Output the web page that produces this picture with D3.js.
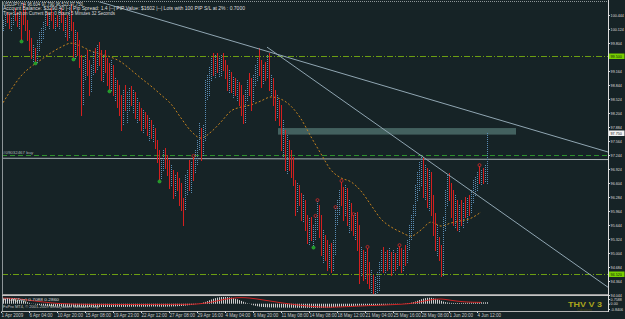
<!DOCTYPE html>
<html>
<head>
<meta charset="utf-8">
<title>USDJPY,H4</title>
<script src="https://cdn.jsdelivr.net/npm/d3@7/dist/d3.min.js"></script>
<style>
  html, body { margin: 0; padding: 0; background: #162326; overflow: hidden; }
  svg { display: block; font-family: "Liberation Sans", Arial, sans-serif; }
</style>
</head>
<body>
<svg id="chart" width="625" height="319"></svg>
<script>
// USDJPY H4 bar chart - MA, trendlines, levels and an oscillator window underneath

const firstOpen = 100.05;

const highs = [
  100.22,100.33,100.44,100.51,100.47,100.38,100.56,100.60,100.51,100.47,
  100.51,100.72,100.56,100.33,100.10,99.92,99.76,99.69,99.87,100.06,
  100.15,100.28,100.44,100.51,100.47,100.60,100.51,100.38,100.44,100.56,
  100.60,100.51,100.38,100.44,100.67,100.70,100.28,100.10,100.06,99.87,
  99.53,99.42,99.53,99.64,99.42,99.30,99.60,99.69,99.76,99.83,
  99.64,99.53,99.64,99.46,99.35,99.42,99.30,99.00,98.96,98.84,
  98.62,98.73,98.84,98.68,98.78,98.82,98.73,98.68,98.55,98.46,
  98.32,98.27,98.23,98.16,98.09,98.04,97.93,97.86,97.59,97.36,
  97.13,97.36,97.40,97.24,97.13,97.02,96.90,96.79,96.86,96.72,
  96.60,96.26,96.79,96.90,97.13,97.08,97.20,97.36,97.59,97.98,
  97.86,97.93,98.96,99.07,99.26,99.46,99.58,99.53,99.58,99.46,
  99.53,99.58,99.42,99.30,99.19,99.14,99.03,99.00,98.96,98.91,
  98.84,98.62,98.73,98.96,99.12,99.00,99.07,99.30,99.46,99.69,
  99.42,99.30,99.37,99.53,99.58,99.07,99.00,98.73,98.62,98.50,
  98.39,98.04,97.82,97.70,97.59,97.36,97.20,96.67,96.60,96.56,
  96.38,96.33,96.22,95.87,95.80,95.83,95.64,95.83,96.19,96.10,
  95.87,95.53,95.42,95.30,95.19,95.23,95.30,96.03,96.22,96.44,
  96.63,96.51,96.56,96.49,96.22,96.15,95.87,95.92,95.94,95.64,
  95.14,95.07,95.03,95.12,94.80,94.62,94.50,94.46,94.57,94.80,
  95.07,95.14,95.03,95.07,95.12,95.03,95.07,95.00,95.12,95.16,
  95.12,95.07,95.19,95.30,95.64,95.87,96.10,96.56,96.86,97.08,
  97.24,97.20,97.02,96.95,96.90,96.86,96.33,95.92,95.64,95.37,
  95.19,95.83,96.44,96.79,96.83,96.60,96.44,96.33,96.22,96.10,
  96.22,96.15,96.28,96.26,96.33,96.44,96.67,96.74,96.86,96.99,
  96.90,96.95,97.02,97.75
];

const lows = [
  99.92,100.10,100.19,100.28,100.15,100.10,100.24,100.33,100.19,100.15,
  99.85,100.24,100.10,99.87,99.64,99.46,99.37,99.35,99.37,99.64,
  99.83,99.92,100.10,100.22,100.15,100.33,100.15,100.10,100.19,100.15,
  100.28,100.10,99.96,99.87,99.92,100.10,99.44,99.46,99.53,99.26,
  98.16,98.39,98.96,99.07,98.62,98.68,99.07,99.14,99.19,99.30,
  98.96,98.91,99.14,98.84,98.71,98.73,98.62,98.50,98.34,98.16,
  97.82,97.93,98.27,97.98,98.27,98.39,98.23,98.09,97.98,98.04,
  97.82,97.75,97.86,97.70,97.59,97.63,97.54,97.40,97.09,96.65,
  96.72,96.90,96.95,96.79,96.49,96.56,96.26,96.33,96.44,96.10,
  95.99,95.64,95.99,96.33,96.44,96.38,96.67,96.86,97.02,97.36,
  97.13,97.24,97.59,98.50,98.62,98.96,99.07,99.03,99.14,99.03,
  99.07,99.19,99.00,98.73,98.66,98.68,98.57,98.62,98.50,98.39,
  98.16,97.98,98.00,98.50,98.62,98.27,98.46,98.84,98.96,99.07,
  98.80,98.89,98.96,99.00,98.73,98.62,98.39,98.04,98.09,97.93,
  97.36,97.20,96.90,96.83,96.90,96.74,96.56,95.87,95.94,96.10,
  95.76,95.71,95.53,95.23,95.19,95.30,95.14,95.30,95.53,95.37,
  94.96,94.80,94.84,94.62,94.66,94.57,94.62,94.96,95.64,95.87,
  96.10,95.76,95.87,95.64,95.46,95.53,95.42,95.30,95.07,94.32,
  94.50,94.39,94.43,94.32,94.20,94.11,94.04,94.02,94.04,94.16,
  94.62,94.57,94.55,94.62,94.66,94.50,94.57,94.62,94.66,94.73,
  94.57,94.62,94.73,94.80,95.07,95.30,95.53,95.87,96.22,96.44,
  96.56,96.28,96.22,96.06,95.99,95.87,95.42,95.07,94.96,94.84,
  94.48,94.48,95.53,96.10,96.22,95.83,95.64,95.60,95.53,95.48,
  95.64,95.57,95.83,95.71,95.87,95.92,96.15,96.33,96.44,96.60,
  96.56,96.60,96.63,96.60
];

const closes = [
  100.15,100.28,100.38,100.33,100.24,100.31,100.51,100.42,100.28,100.44,
  100.33,100.28,100.19,99.99,99.76,99.53,99.64,99.42,99.76,99.96,
  100.10,100.19,100.38,100.28,100.42,100.38,100.22,100.33,100.24,100.51,
  100.33,100.15,100.28,99.99,100.56,100.22,99.53,99.99,99.64,99.37,
  98.50,99.19,99.46,99.23,98.73,99.19,99.51,99.30,99.64,99.42,
  99.07,99.42,99.23,98.96,98.78,99.30,98.73,98.91,98.50,98.27,
  98.04,98.62,98.39,98.55,98.68,98.50,98.62,98.23,98.39,98.16,
  97.93,98.16,97.95,97.82,98.00,97.70,97.86,97.47,97.18,96.79,
  97.02,97.24,97.02,96.90,96.63,96.90,96.40,96.67,96.54,96.22,
  96.10,95.94,96.67,96.72,96.56,96.90,96.79,97.24,97.47,97.82,
  97.36,97.70,98.73,98.96,99.14,99.37,99.19,99.42,99.23,99.30,
  99.46,99.26,99.14,98.84,99.00,98.78,98.91,98.73,98.84,98.50,
  98.27,98.09,98.62,98.84,98.73,98.50,98.96,99.19,99.37,99.19,
  98.96,99.23,99.07,99.42,98.84,98.96,98.50,98.16,98.39,98.04,
  97.47,97.70,97.02,97.47,97.13,96.86,96.67,95.99,96.49,96.22,
  95.87,96.10,95.64,95.35,95.64,95.42,95.53,95.76,96.06,95.48,
  95.07,95.30,94.96,94.80,95.07,94.73,95.19,95.87,96.10,96.33,
  96.22,95.87,96.44,95.76,95.99,95.64,95.53,95.76,95.19,94.62,
  94.96,94.50,94.89,94.50,94.27,94.39,94.16,94.34,94.50,94.73,
  94.96,94.66,94.89,94.80,95.03,94.66,94.96,94.73,95.03,94.84,
  94.66,94.96,94.84,95.19,95.53,95.71,95.99,96.44,96.72,96.95,
  97.13,96.44,96.79,96.22,96.67,95.99,95.53,95.19,95.30,94.96,
  94.62,95.64,96.33,96.63,96.33,95.99,95.76,96.10,95.64,95.94,
  95.76,96.03,95.94,96.10,95.99,96.33,96.56,96.63,96.76,96.67,
  96.79,96.67,96.86,97.75
];

// moving average, one reading every 5 bars
const maStep = 5;
const maValues = [
  98.36,98.73,99.05,99.26,99.42,99.58,99.71,99.80,99.73,99.62,
  99.55,99.48,99.37,99.19,99.00,98.82,98.62,98.41,98.09,97.79,
  97.63,97.77,98.00,98.25,98.34,98.39,98.48,98.57,98.52,98.36,
  98.07,97.66,97.27,96.90,96.72,96.63,96.42,96.10,95.78,95.60,
  95.48,95.39,95.53,95.71,95.62,95.69,95.74,95.80,95.94
];

// oscillator histogram, one value per bar
const oscHist = [
  0.75,0.8,0.85,0.85,0.8,0.8,0.75,0.7,0.65,0.6,0.55,0.45,0.35,0.25,0.15,0.05,
  -0.05,-0.12,-0.18,-0.22,-0.26,-0.3,-0.33,-0.36,-0.38,-0.4,
  -0.42,-0.44,-0.45,-0.46,-0.47,-0.48,-0.48,-0.49,-0.5,-0.5,
  -0.5,-0.5,-0.5,-0.5,-0.51,-0.51,-0.52,-0.52,-0.52,-0.52,
  -0.52,-0.53,-0.52,-0.51,-0.52,-0.53,-0.52,-0.51,-0.52,-0.52,
  -0.5,-0.5,-0.49,-0.49,-0.5,-0.5,-0.5,-0.49,-0.48,-0.48,
  -0.48,-0.47,-0.47,-0.47,-0.48,-0.48,-0.48,-0.47,-0.46,-0.45,
  -0.45,-0.45,-0.46,-0.47,-0.48,-0.48,-0.47,-0.46,-0.45,-0.44,
  -0.43,-0.42,-0.4,-0.38,-0.36,-0.33,-0.3,-0.26,-0.22,-0.17,
  -0.12,-0.07,-0.02,0.03,
  0.1,0.2,0.3,0.42,0.55,0.68,0.8,0.9,0.98,1.04,1.08,1.1,1.1,1.08,1.04,0.98,0.9,0.8,0.7,0.58,0.45,0.32,0.2,
  0.08,-0.04,-0.15,-0.25,-0.33,-0.4,-0.46,-0.5,-0.53,-0.55,
  -0.57,-0.58,-0.59,-0.6,-0.6,-0.61,-0.61,-0.62,-0.62,-0.62,
  -0.63,-0.63,-0.63,-0.64,-0.64,-0.64,-0.64,-0.65,-0.65,-0.65,
  -0.65,-0.65,-0.66,-0.66,-0.66,-0.66,-0.65,-0.65,-0.64,-0.63,
  -0.62,-0.6,-0.58,-0.55,-0.52,-0.5,-0.48,-0.46,-0.44,-0.42,
  -0.4,-0.38,-0.36,-0.35,-0.34,-0.33,-0.32,-0.31,-0.3,-0.29,
  -0.28,-0.27,-0.26,-0.25,-0.24,-0.23,-0.22,-0.2,-0.18,-0.16,
  -0.14,-0.12,-0.1,-0.08,-0.06,-0.04,-0.02,0.0,0.02,0.05,
  0.08,0.12,0.18,0.26,0.36,0.48,0.6,
  0.72,0.82,0.9,0.95,0.96,0.94,0.88,0.8,0.7,0.58,0.46,0.35,0.26,0.2,
  0.16,0.14,0.13,0.12,0.12,0.12,0.13,0.14,0.15,0.16,0.17,0.18,0.19,0.2,0.2,0.21,0.22,0.22,0.23,0.24
];

// trigger line, one reading every 4 bars
const sigStep = 4;
const oscSignal = [
  0.9,0.88,0.8,0.65,0.48,0.32,0.18,0.06,0.0,-0.05,
  -0.08,-0.1,-0.1,-0.11,-0.12,-0.12,-0.12,-0.12,-0.12,-0.11,
  -0.11,-0.11,-0.1,-0.1,-0.08,0.02,0.18,0.45,0.72,0.9,
  0.98,0.92,0.76,0.56,0.36,0.16,-0.02,-0.18,-0.32,-0.44,
  -0.52,-0.55,-0.53,-0.48,-0.42,-0.36,-0.3,-0.25,-0.2,-0.14,
  -0.08,0.02,0.2,0.45,0.68,0.75,0.6,0.42,0.3,0.24,
  0.22
];

const labelStep = 14;
const timeLabels = [
  '1 Apr 2009', '6 Apr 04:00', '10 Apr 20:00', '15 Apr 08:00', '19 Apr 23:00', '22 Apr 12:00',
  '27 Apr 08:00', '29 Apr 16:00', '4 May 04:00', '6 May 20:00', '11 May 08:00', '14 May 08:00',
  '18 May 12:00', '21 May 04:00', '25 May 16:00', '28 May 08:00', '1 Jun 20:00', '4 Jun 12:00'
];

const priceTicks = [
  100.444, 100.124, 99.804, 99.164, 98.844, 98.524, 98.204, 97.884, 97.564, 97.244,
  96.924, 96.604, 96.284, 95.964, 95.644, 95.324, 95.004, 94.684, 94.364, 94.044
];
const oscTicks = [0.7588, 0, -0.8406];

const levelPrices = [99.50, 94.52];     // dash-dot support / resistance
const pivotPrice = 97.25;               // dashed green
const lastPrice = 97.750;
const orderLine = [97.17, 97.14];       // "#09032467 buy", left and right price
const zone = [138.5, 257.5, 97.71, 97.86];
// [bar1, price1, bar2, price2]
const trendAnchors = [
  [100, 100.06, 240, 98.17],
  [133, 99.71, 206, 97.36]
];
const fractalLows = [10, 17, 36, 54, 79, 156];
const fractalHighs = [96, 157, 158, 167, 170, 176, 183, 199, 239];

const headerLines = [
  'USDJPY,H4  96.604 97.790 96.523 97.750',
  'Account Balance: $3290.40 |--| Pip Spread: 1.4 |--| PIP Value: $1602 |--| Lots with 100 PIP S/L at 2% : 0.7000',
  'Time Left on Current Bar: 0 Hours 5 Minutes 32 Seconds'
];

const COLORS = {
  bg: '#162326',
  frame: '#8d9598',
  axis: '#dedede',
  text: '#dcdcdc',
  bull: '#5a8cb4',
  bear: '#d41f1f',
  ma: '#c4821e',
  trend: '#90a6b2',
  level: '#6c9e12',
  pivot: '#2e8f2e',
  zone: '#43615f',
  order: '#aab2b6',
  hist: '#cdcdcd',
  signal: '#e02424'
};

const W = 625, H = 319;
const main = { left: 2, right: 608, top: 1, bottom: 294 };
const sub = { top: 297, bottom: 311 };

const svg = d3.select('#chart');

const x = d3.scaleLinear().domain([0, highs.length - 1]).range([1, 487]);
const y = d3.scaleLinear().domain([94.044, 100.444]).range([295, 15]);
const oy = d3.scaleLinear().domain([-0.8406, 0.7588]).range([309, 299]);
const px = i => Math.round(x(i)) + 0.5;
const lastBar = (main.right - 1) / 2 + 1; // bar index at the right edge

svg.append('rect').attr('width', W).attr('height', H).attr('fill', COLORS.bg);

const defs = svg.append('defs');
defs.append('clipPath').attr('id', 'clip-main').append('rect')
  .attr('x', main.left + 1).attr('y', main.top + 1)
  .attr('width', main.right - main.left - 1).attr('height', main.bottom - main.top - 1);
defs.append('clipPath').attr('id', 'clip-sub').append('rect')
  .attr('x', main.left + 1).attr('y', sub.top)
  .attr('width', main.right - main.left - 1).attr('height', sub.bottom - sub.top);

const g = svg.append('g').attr('clip-path', 'url(#clip-main)');

// horizontal levels
levelPrices.forEach(p => {
  g.append('line')
    .attr('x1', main.left).attr('x2', main.right)
    .attr('y1', Math.round(y(p)) + 0.5).attr('y2', Math.round(y(p)) + 0.5)
    .attr('stroke', COLORS.level).attr('stroke-dasharray', '6,2,1,2');
});
g.append('line')
  .attr('x1', main.left).attr('x2', main.right)
  .attr('y1', Math.round(y(pivotPrice)) + 0.5).attr('y2', Math.round(y(pivotPrice)) + 0.5)
  .attr('stroke', COLORS.pivot).attr('stroke-dasharray', '5,3');

// zone rectangle
g.append('rect')
  .attr('x', x(zone[0])).attr('width', x(zone[1]) - x(zone[0]))
  .attr('y', y(zone[3])).attr('height', y(zone[2]) - y(zone[3]))
  .attr('fill', COLORS.zone);

// order line and its label
g.append('line')
  .attr('x1', main.left).attr('x2', main.right)
  .attr('y1', y(orderLine[0])).attr('y2', y(orderLine[1]))
  .attr('stroke', COLORS.order).attr('stroke-width', 1);
g.append('text')
  .attr('x', 3).attr('y', y(orderLine[0]) - 4)
  .attr('font-size', 4.4).attr('fill', COLORS.order)
  .text('#09032467 buy');

// moving average
const maLine = d3.line()
  .x((d, k) => x(k * maStep))
  .y(d => y(d))
  .curve(d3.curveMonotoneX);
g.append('path')
  .datum(maValues)
  .attr('fill', 'none')
  .attr('stroke', COLORS.ma)
  .attr('stroke-width', 1)
  .attr('stroke-dasharray', '2,2')
  .attr('d', maLine);

// price bars - bull bars come out dotted in the screenshot, bear bars solid
const bars = highs.map((h, i) => ({
  i, h, l: lows[i], c: closes[i], o: i ? closes[i - 1] : firstOpen
}));
const barG = g.append('g').attr('class', 'bars');
bars.forEach(d => {
  const up = d.c >= d.o;
  barG.append('line')
    .attr('x1', px(d.i)).attr('x2', px(d.i))
    .attr('y1', Math.round(y(d.h))).attr('y2', Math.round(y(d.l)) + 1)
    .style('stroke', up ? COLORS.bull : COLORS.bear)
    .style('stroke-width', 1)
    .style('stroke-dasharray', up ? '1,1' : null);
});

// fractal markers
g.selectAll('circle.flow')
  .data(fractalLows)
  .join('circle')
  .attr('cx', i => px(i)).attr('cy', i => y(lows[i]) + 0.5)
  .attr('r', 1.6)
  .attr('fill', '#1f9a26').attr('stroke', '#36c23c').attr('stroke-width', 0.5);
g.selectAll('circle.fhigh')
  .data(fractalHighs)
  .join('circle')
  .attr('cx', i => px(i)).attr('cy', i => y(highs[i]) - 1)
  .attr('r', 1.5)
  .attr('fill', 'none').attr('stroke', '#d02828').attr('stroke-width', 0.8);

// trendlines
const along = (a, i) => a[1] + (a[3] - a[1]) * (i - a[0]) / (a[2] - a[0]);
const trendLine = d3.line().x(d => x(d[0])).y(d => y(d[1]));
trendAnchors.forEach((a, k) => {
  const from = k === 0 ? 30 : a[0];
  g.append('path')
    .datum([[from, along(a, from)], [lastBar, along(a, lastBar)]])
    .attr('fill', 'none')
    .attr('stroke', COLORS.trend)
    .attr('stroke-width', 1)
    .attr('d', trendLine);
});

// header text
headerLines.forEach((t, k) => {
  svg.append('text')
    .attr('x', 3).attr('y', 5.5 + k * 4.5)
    .attr('font-size', 4.6)
    .attr('fill', COLORS.text)
    .attr('textLength', [80, 242, 112][k])
    .attr('lengthAdjust', 'spacingAndGlyphs')
    .text(t);
});

// oscillator window
const og = svg.append('g').attr('clip-path', 'url(#clip-sub)');
og.selectAll('line.hist')
  .data(oscHist)
  .join('line')
  .attr('class', 'hist')
  .attr('x1', (d, i) => px(i)).attr('x2', (d, i) => px(i))
  .attr('y1', oy(0)).attr('y2', d => oy(d))
  .attr('stroke', COLORS.hist).attr('stroke-width', 1);
og.append('path')
  .datum(oscSignal)
  .attr('fill', 'none')
  .attr('stroke', COLORS.signal)
  .attr('stroke-width', 0.9)
  .attr('d', d3.line().x((d, k) => x(k * sigStep)).y(d => oy(d)).curve(d3.curveMonotoneX));

og.append('text')
  .attr('x', 3).attr('y', 301.3)
  .attr('font-size', 4.2).attr('fill', COLORS.text)
  .attr('textLength', 56).attr('lengthAdjust', 'spacingAndGlyphs')
  .text('FTLM(Trig) 0.7088 0.2860');
og.append('text')
  .attr('x', 3).attr('y', 308.3)
  .attr('font-size', 4).attr('fill', '#c4c4c4')
  .attr('textLength', 97).attr('lengthAdjust', 'spacingAndGlyphs')
  .text('FxPro MT4, © 2001-2009 MetaQuotes Software Corp.');
svg.append('text')
  .attr('x', 568).attr('y', 307)
  .attr('font-size', 8).attr('font-weight', 'bold')
  .attr('fill', '#aaa61c')
  .attr('textLength', 34).attr('lengthAdjust', 'spacingAndGlyphs')
  .text('THV V 3');
svg.append('text')
  .attr('x', 577).attr('y', 310.5)
  .attr('font-size', 3).attr('fill', '#4e4c12')
  .text('Cobraforex');

// frames
const frame = svg.append('g').attr('stroke', COLORS.frame).attr('fill', 'none');
frame.append('line').attr('x1', main.left + 0.5).attr('x2', main.left + 0.5)
  .attr('y1', main.top).attr('y2', sub.bottom);
frame.append('line').attr('x1', main.left).attr('x2', main.right)
  .attr('y1', main.top + 0.5).attr('y2', main.top + 0.5).attr('stroke-dasharray', '1,1');
frame.append('line').attr('x1', main.left).attr('x2', main.right)
  .attr('y1', main.bottom + 0.5).attr('y2', main.bottom + 0.5).attr('stroke', '#9c9c9c');
frame.append('line').attr('x1', main.left).attr('x2', main.right)
  .attr('y1', main.bottom + 1.5).attr('y2', main.bottom + 1.5).attr('stroke', '#c4c4c4');
frame.append('line').attr('x1', main.left).attr('x2', main.right)
  .attr('y1', sub.bottom + 0.5).attr('y2', sub.bottom + 0.5).attr('stroke', '#b4b4b4');
svg.append('line')
  .attr('x1', main.right + 0.5).attr('x2', main.right + 0.5)
  .attr('y1', 0).attr('y2', sub.bottom + 1)
  .attr('stroke', COLORS.axis);

// right price axis
const styleAxis = sel => {
  sel.attr('font-family', null).attr('font-size', 3.7);
  sel.select('.domain').remove();
  sel.selectAll('line').attr('stroke', COLORS.axis);
  sel.selectAll('text').attr('fill', COLORS.axis);
};
svg.append('g')
  .attr('transform', `translate(${main.right + 0.5},0)`)
  .call(d3.axisRight(y).tickValues(priceTicks).tickFormat(d3.format('.3f')).tickSize(1.5).tickPadding(0.6))
  .call(styleAxis);
svg.append('g')
  .attr('transform', `translate(${main.right + 0.5},0)`)
  .call(d3.axisRight(oy).tickValues(oscTicks).tickFormat(d => d === 0 ? '0.00' : d.toFixed(4)).tickSize(1.5).tickPadding(0.6))
  .call(styleAxis);

// highlighted price labels
const marks = [
  { p: levelPrices[0], fill: '#78d000', text: '99.500' },
  { p: lastPrice, fill: '#f2f2f2', text: '97.750' },
  { p: levelPrices[1], fill: '#78d000', text: '94.520' }
];
marks.forEach(m => {
  const cy = Math.round(y(m.p));
  svg.append('rect')
    .attr('x', main.right + 1).attr('y', cy - 2.5)
    .attr('width', 15.5).attr('height', 5.5)
    .attr('fill', m.fill);
  svg.append('text')
    .attr('x', main.right + 2.5).attr('y', cy + 1.6)
    .attr('font-size', 3.7).attr('fill', '#101010')
    .text(m.text);
});

// time axis
svg.append('g')
  .attr('transform', `translate(0,${sub.bottom + 0.5})`)
  .call(d3.axisBottom(x)
    .tickValues(timeLabels.map((t, k) => k * labelStep))
    .tickFormat((d, k) => timeLabels[k])
    .tickSize(1.5).tickPadding(1.2))
  .call(sel => {
    styleAxis(sel);
    sel.attr('font-size', 4.5);
    sel.selectAll('text').attr('text-anchor', 'start').attr('fill', '#c8c8c8');
  });
</script>
</body>
</html>
